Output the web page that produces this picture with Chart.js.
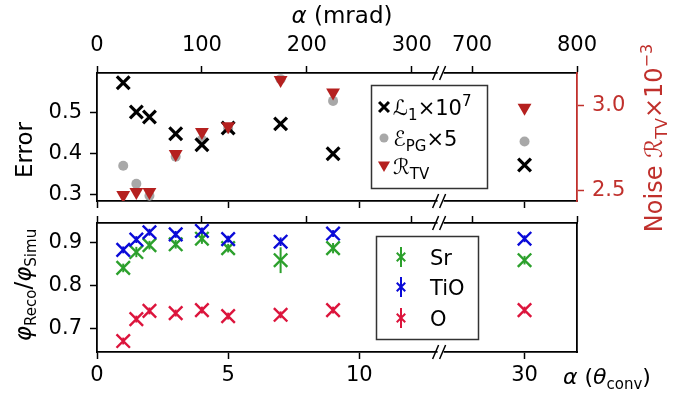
<!DOCTYPE html>
<html>
<head>
<meta charset="utf-8">
<script src="https://cdn.jsdelivr.net/npm/chart.js@4.4.1/dist/chart.umd.min.js"></script>
<style>
body { margin: 0; background: #fff; }
#wrap { position: relative; width: 689px; height: 395px; }
#wrap canvas { position: absolute; left: 0; top: 0; }
</style>
</head>
<body>
<div id="wrap">
<canvas id="chartTop" width="689" height="395"></canvas>
<canvas id="chartBottom" width="689" height="395"></canvas>
</div>
<script>
// convergence angles (in units of theta_conv) shared by both panels
var thetaConv = [1, 1.5, 2, 3, 4, 5, 7, 9, 30];

// top panel
var lossL1 = [0.573, 0.502, 0.490, 0.449, 0.422, 0.463, 0.473, 0.400, 0.373];
var errPG = [0.371, 0.327, 0.298, 0.393, 0.434, 0.462, 0.582, 0.529, 0.430];
var noiseTV = [2.470, 2.488, 2.488, 2.714, 2.845, 2.880, 3.155, 3.080, 2.990];

// bottom panel
var ratioSr = [0.842, 0.879, 0.895, 0.897, 0.910, 0.888, 0.860, 0.888, 0.860];
var ratioTiO = [0.884, 0.908, 0.925, 0.920, 0.928, 0.909, 0.903, 0.922, 0.910];
var ratioO = [0.672, 0.723, 0.742, 0.737, 0.744, 0.730, 0.733, 0.744, 0.744];
var errSr = [0.010, 0.012, 0.010, 0.010, 0.012, 0.010, 0.030, 0.012, 0.010];
var errTiO = [0.008, 0.008, 0.008, 0.008, 0.008, 0.008, 0.010, 0.008, 0.008];
var errO = [0.008, 0.008, 0.008, 0.008, 0.008, 0.008, 0.008, 0.008, 0.008];

// ticks
var thetaTicks = [0, 5, 10, 30];
var mradTicks = [0, 100, 200, 300, 700, 800];
var errorTicks = [0.3, 0.4, 0.5];
var noiseTicks = [2.5, 3.0];
var ratioTicks = [0.7, 0.8, 0.9];

var MRAD_PER_THETA = 25;
// broken x axis: the range between these two angles is cut out
var BREAK_LO = 13.1;
var BREAK_HI = 26.8;
var THETA_MAX = 32;

function axisPos(theta) {
    return theta > BREAK_LO ? theta - (BREAK_HI - BREAK_LO) : theta;
}
function fromAxisPos(u) {
    return u > BREAK_LO ? u + (BREAK_HI - BREAK_LO) : u;
}
function points(ys) {
    return thetaConv.map(function (t, i) { return { x: axisPos(t), y: ys[i] }; });
}

var FONT = "'DejaVu Sans', sans-serif";
Chart.defaults.font.family = FONT;
Chart.defaults.color = '#000';
var RED_AXIS = '#c0302c';
var SPINE = 1.8;

function fixW(w) { return function (s) { s.width = w; }; }
function fixH(h) { return function (s) { s.height = h; }; }
function setTicks(list) {
    return function (s) { s.ticks = list.map(function (v) { return { value: v }; }); };
}

function xAxis(pos, showLabels, mrad, h) {
    return {
        type: 'linear', position: pos, min: 0, max: axisPos(THETA_MAX),
        afterBuildTicks: setTicks((mrad ? mradTicks.map(function (m) { return m / MRAD_PER_THETA; }) : thetaTicks).map(axisPos)),
        afterFit: fixH(h),
        ticks: {
            display: showLabels, maxRotation: 0, autoSkip: false,
            padding: pos === 'top' ? 8 : 4,
            font: { size: 21 }, color: '#000',
            callback: function (v) {
                var t = fromAxisPos(v);
                return String(Math.round(mrad ? t * MRAD_PER_THETA : t));
            }
        },
        grid: { drawOnChartArea: false, tickLength: 7, tickWidth: 1.5, tickColor: '#000' },
        border: { display: true, color: '#000', width: SPINE }
    };
}

function yAxis(pos, min, max, list, w, color) {
    return {
        type: 'linear', position: pos, min: min, max: max,
        afterBuildTicks: setTicks(list),
        afterFit: fixW(w),
        ticks: {
            display: list.length > 0, padding: 8, font: { size: 21 }, color: color,
            callback: function (v) { return v.toFixed(1); }
        },
        grid: { drawOnChartArea: false, drawTicks: list.length > 0, tickLength: 7, tickWidth: 1.5, tickColor: color },
        border: { display: true, color: color, width: SPINE }
    };
}

function drawRich(ctx, parts, x, y, measureOnly) {
    var cx = x;
    parts.forEach(function (p) {
        ctx.font = (p[3] ? 'italic ' : '') + p[1] + 'px ' + FONT;
        if (!measureOnly) ctx.fillText(p[0], cx, y + (p[2] || 0));
        cx += ctx.measureText(p[0]).width;
    });
    return cx - x;
}

function drawRotated(ctx, parts, cx, cy, color) {
    ctx.save();
    ctx.translate(cx, cy);
    ctx.rotate(-Math.PI / 2);
    ctx.fillStyle = color;
    ctx.textAlign = 'left';
    ctx.textBaseline = 'alphabetic';
    var w = drawRich(ctx, parts, 0, 0, true);
    drawRich(ctx, parts, -w / 2, 0);
    ctx.restore();
}

function drawBreak(ctx, x, y) {
    ctx.save();
    ctx.fillStyle = '#fff';
    ctx.fillRect(x - 3, y - 2, 6, 4);
    ctx.strokeStyle = '#000';
    ctx.lineWidth = 1.5;
    ctx.beginPath();
    ctx.moveTo(x - 8, y + 7); ctx.lineTo(x - 2, y - 7);
    ctx.moveTo(x - 1, y + 7); ctx.lineTo(x + 5, y - 7);
    ctx.stroke();
    ctx.restore();
}

function marker(ctx, style, r, rot, bw, color, x, y) {
    ctx.save();
    ctx.fillStyle = color;
    ctx.strokeStyle = color;
    ctx.lineWidth = bw;
    Chart.helpers.drawPoint(ctx, { pointStyle: style, radius: r, rotation: rot, borderWidth: bw }, x, y);
    ctx.restore();
}

var errorBarPlugin = {
    id: 'errorBars',
    beforeDatasetsDraw: function (chart) {
        var ctx = chart.ctx;
        chart.data.datasets.forEach(function (ds, i) {
            if (!ds.errors) return;
            var xs = chart.scales[ds.xAxisID], ys = chart.scales[ds.yAxisID];
            ctx.save();
            ctx.strokeStyle = ds.pointBorderColor;
            ctx.lineWidth = 2;
            ds.data.forEach(function (p, j) {
                var px = xs.getPixelForValue(p.x);
                ctx.beginPath();
                ctx.moveTo(px, ys.getPixelForValue(p.y - ds.errors[j]));
                ctx.lineTo(px, ys.getPixelForValue(p.y + ds.errors[j]));
                ctx.stroke();
            });
            ctx.restore();
        });
    }
};

var topDecor = {
    id: 'topDecor',
    afterDraw: function (chart) {
        var ctx = chart.ctx, a = chart.chartArea;
        var bx = chart.scales.xBot.getPixelForValue(BREAK_LO);
        drawBreak(ctx, bx, a.top);
        drawBreak(ctx, bx, a.bottom);

        ctx.save();
        ctx.fillStyle = '#000';
        ctx.textBaseline = 'alphabetic';
        var t = [['α', 23, 0, true], [' (mrad)', 23]];
        var w = drawRich(ctx, t, 0, 0, true);
        drawRich(ctx, t, 342 - w / 2, 23);
        ctx.restore();

        drawRotated(ctx, [['Error', 23]], 32, 150, '#000');
        drawRotated(ctx, [['Noise ', 24], ['ℛ', 24], ['TV', 16, 5], ['×10', 24], ['−3', 16, -10]], 662, 138, RED_AXIS);

        // legend
        ctx.save();
        ctx.fillStyle = '#fff';
        ctx.fillRect(371.5, 85.5, 116, 103);
        ctx.strokeStyle = '#333';
        ctx.lineWidth = 1.5;
        ctx.strokeRect(371.5, 85.5, 116, 103);
        ctx.restore();
        marker(ctx, 'crossRot', 7, 0, 3, '#000', 384, 107);
        marker(ctx, 'circle', 4.5, 0, 0, '#a8a8a8', 384, 138);
        marker(ctx, 'triangle', 7, 180, 0, '#b5201f', 384, 165);
        ctx.save();
        ctx.fillStyle = '#000';
        drawRich(ctx, [['ℒ', 21], ['1', 15, 5], ['×10', 21], ['7', 15, -9]], 393, 115);
        drawRich(ctx, [['ℰ', 21], ['PG', 15, 5], ['×5', 21]], 393, 146);
        drawRich(ctx, [['ℛ', 21], ['TV', 15, 5]], 393, 174);
        ctx.restore();
    }
};

var bottomDecor = {
    id: 'bottomDecor',
    afterDraw: function (chart) {
        var ctx = chart.ctx, a = chart.chartArea;
        var bx = chart.scales.xBot2.getPixelForValue(BREAK_LO);
        drawBreak(ctx, bx, a.top);
        drawBreak(ctx, bx, a.bottom);

        ctx.save();
        ctx.fillStyle = '#000';
        ctx.textBaseline = 'alphabetic';
        drawRich(ctx, [['α', 22, 0, true], [' (', 22], ['θ', 22, 0, true], ['conv', 15, 5], [')', 22]], 563, 384);
        ctx.restore();

        drawRotated(ctx, [['φ', 23, 0, true], ['Reco', 15, 5], ['/', 23], ['φ', 23, 0, true], ['Simu', 15, 5]], 31, 285, '#000');

        // legend
        ctx.save();
        ctx.fillStyle = '#fff';
        ctx.fillRect(376.5, 236.5, 102, 103);
        ctx.strokeStyle = '#333';
        ctx.lineWidth = 1.5;
        ctx.strokeRect(376.5, 236.5, 102, 103);
        ctx.restore();
        var rows = [['Sr', '#2ca02c', 257], ['TiO', '#0a0ad8', 287], ['O', '#dc143c', 318]];
        rows.forEach(function (r) {
            ctx.save();
            ctx.strokeStyle = r[1];
            ctx.lineWidth = 2;
            ctx.beginPath();
            ctx.moveTo(401, r[2] - 10);
            ctx.lineTo(401, r[2] + 10);
            ctx.stroke();
            ctx.restore();
            marker(ctx, 'crossRot', 6, 0, 2, r[1], 401, r[2]);
            ctx.save();
            ctx.fillStyle = '#000';
            drawRich(ctx, [[r[0], 21]], 430, r[2] + 8);
            ctx.restore();
        });
    }
};

var common = {
    responsive: false,
    animation: false,
    layout: { padding: 0, autoPadding: false },
    plugins: { legend: { display: false }, tooltip: { enabled: false } }
};

new Chart(document.getElementById('chartTop').getContext('2d'), {
    type: 'scatter',
    data: {
        datasets: [{
            label: 'R_TV', data: points(noiseTV), xAxisID: 'xBot', yAxisID: 'yNoise', order: 1,
            pointStyle: 'triangle', pointRotation: 180, pointRadius: 8,
            pointBackgroundColor: '#b5201f', pointBorderColor: '#b5201f', pointBorderWidth: 0
        }, {
            label: 'L1 x 1e7', data: points(lossL1), xAxisID: 'xBot', yAxisID: 'yErr', order: 2,
            pointStyle: 'crossRot', pointRadius: 9,
            pointBorderColor: '#000', pointBorderWidth: 3.2
        }, {
            label: 'E_PG x 5', data: points(errPG), xAxisID: 'xBot', yAxisID: 'yErr', order: 3,
            pointStyle: 'circle', pointRadius: 5,
            pointBackgroundColor: '#a8a8a8', pointBorderColor: '#a8a8a8', pointBorderWidth: 0
        }]
    },
    options: Object.assign({}, common, {
        scales: {
            xTop: xAxis('top', true, true, 73),
            xBot: xAxis('bottom', false, false, 395 - 201),
            yErr: yAxis('left', 0.285, 0.597, errorTicks, 97, '#000'),
            yNoise: yAxis('right', 2.435, 3.196, noiseTicks, 689 - 577, RED_AXIS)
        }
    }),
    plugins: [topDecor]
});

new Chart(document.getElementById('chartBottom').getContext('2d'), {
    type: 'scatter',
    data: {
        datasets: [{
            label: 'TiO', data: points(ratioTiO), errors: errTiO, xAxisID: 'xBot2', yAxisID: 'yRatio', order: 1,
            pointStyle: 'crossRot', pointRadius: 9.5, pointBorderColor: '#0a0ad8', pointBorderWidth: 2.4
        }, {
            label: 'Sr', data: points(ratioSr), errors: errSr, xAxisID: 'xBot2', yAxisID: 'yRatio', order: 2,
            pointStyle: 'crossRot', pointRadius: 9.5, pointBorderColor: '#2ca02c', pointBorderWidth: 2.4
        }, {
            label: 'O', data: points(ratioO), errors: errO, xAxisID: 'xBot2', yAxisID: 'yRatio', order: 3,
            pointStyle: 'crossRot', pointRadius: 9.5, pointBorderColor: '#dc143c', pointBorderWidth: 2.4
        }]
    },
    options: Object.assign({}, common, {
        scales: {
            xTop2: xAxis('top', false, true, 223),
            xBot2: xAxis('bottom', true, false, 395 - 352),
            yRatio: yAxis('left', 0.6465, 0.9465, ratioTicks, 97, '#000'),
            yRight: yAxis('right', 0, 1, [], 689 - 577, '#000')
        }
    }),
    plugins: [errorBarPlugin, bottomDecor]
});
</script>
</body>
</html>
